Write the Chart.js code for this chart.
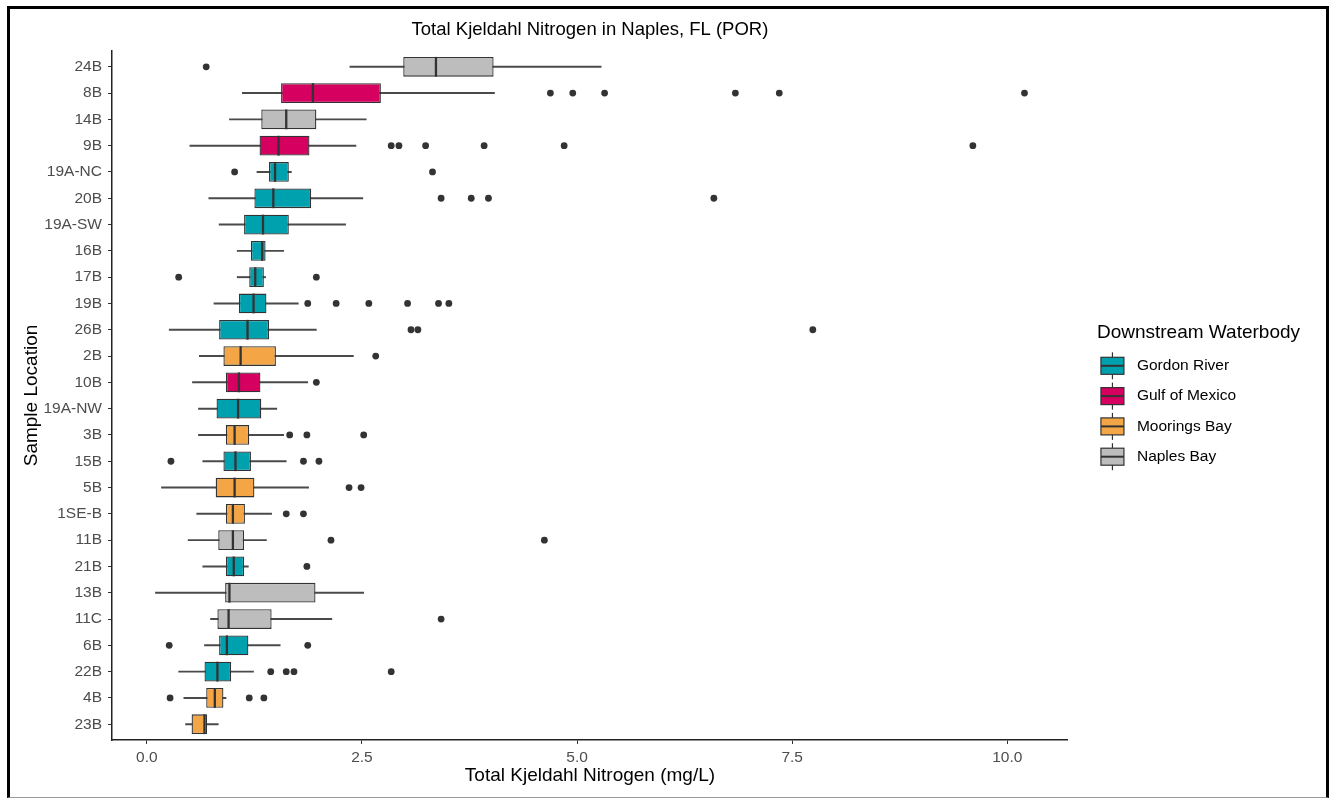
<!DOCTYPE html>
<html>
<head>
<meta charset="utf-8">
<title>Total Kjeldahl Nitrogen in Naples, FL (POR)</title>
<script src="https://cdn.jsdelivr.net/npm/chart.js@4.4.1/dist/chart.umd.min.js"></script>
<style>
  html, body { margin: 0; padding: 0; background: #fff; }
  #wrap { position: relative; width: 1335px; height: 799px; }
  #frame {
    position: absolute; left: 7px; top: 6px; width: 1322px; height: 792px;
    box-sizing: border-box; border: 3px solid #000; border-bottom: 1px solid #9a9a9a;
    pointer-events: none;
  }
</style>
</head>
<body>
<div id="wrap"><canvas id="chart"></canvas><div id="frame"></div></div>
<script>
// sample locations, top to bottom
const categories = ["24B", "8B", "14B", "9B", "19A-NC", "20B", "19A-SW", "16B", "17B", "19B", "26B", "2B", "10B",
  "19A-NW", "3B", "15B", "5B", "1SE-B", "11B", "21B", "13B", "11C", "6B", "22B", "4B", "23B"];
const waterbody = ["Naples Bay", "Gulf of Mexico", "Naples Bay", "Gulf of Mexico", "Gordon River", "Gordon River",
  "Gordon River", "Gordon River", "Gordon River", "Gordon River", "Gordon River", "Moorings Bay", "Gulf of Mexico",
  "Gordon River", "Moorings Bay", "Gordon River", "Moorings Bay", "Moorings Bay", "Naples Bay", "Gordon River",
  "Naples Bay", "Naples Bay", "Gordon River", "Gordon River", "Moorings Bay", "Moorings Bay"];

// box plot statistics (mg/L)
const whiskerLow = [2.36, 1.11, 0.96, 0.50, 1.28, 0.72, 0.84, 1.05, 1.05, 0.78, 0.26, 0.61, 0.53, 0.60, 0.60, 0.65, 0.17, 0.58, 0.48, 0.65, 0.10, 0.74, 0.67, 0.37, 0.43, 0.45];
const q1 = [2.98, 1.56, 1.33, 1.31, 1.42, 1.25, 1.13, 1.21, 1.19, 1.07, 0.84, 0.89, 0.92, 0.81, 0.92, 0.89, 0.80, 0.92, 0.83, 0.92, 0.91, 0.82, 0.84, 0.67, 0.69, 0.52];
const median = [3.36, 1.93, 1.62, 1.53, 1.49, 1.47, 1.35, 1.34, 1.26, 1.24, 1.17, 1.09, 1.07, 1.06, 1.02, 1.03, 1.02, 1.00, 1.00, 1.01, 0.96, 0.95, 0.93, 0.82, 0.79, 0.67];
const q3 = [4.03, 2.72, 1.97, 1.89, 1.65, 1.91, 1.65, 1.38, 1.36, 1.39, 1.42, 1.50, 1.32, 1.33, 1.19, 1.21, 1.25, 1.14, 1.13, 1.13, 1.96, 1.45, 1.18, 0.98, 0.89, 0.70];
const whiskerHigh = [5.28, 4.04, 2.55, 2.43, 1.68, 2.51, 2.31, 1.59, 1.38, 1.76, 1.97, 2.40, 1.87, 1.51, 1.59, 1.62, 1.88, 1.45, 1.39, 1.18, 2.52, 2.15, 1.55, 1.24, 0.92, 0.83];
const outliers = [
  [0.69],
  [4.69, 4.95, 5.32, 6.84, 7.35, 10.20],
  [],
  [2.84, 2.93, 3.24, 3.92, 4.85, 9.60],
  [1.02, 3.32],
  [3.42, 3.77, 3.97, 6.59],
  [],
  [],
  [0.37, 1.97],
  [1.87, 2.20, 2.58, 3.03, 3.39, 3.51],
  [3.07, 3.15, 7.74],
  [2.66],
  [1.97],
  [],
  [1.66, 1.86, 2.52],
  [0.28, 1.82, 2.00],
  [2.35, 2.49],
  [1.62, 1.82],
  [2.14, 4.62],
  [1.86],
  [],
  [3.42],
  [0.26, 1.87],
  [1.44, 1.62, 1.71, 2.84],
  [0.27, 1.19, 1.36],
  []
];

const groups = ["Gordon River", "Gulf of Mexico", "Moorings Bay", "Naples Bay"];
const groupColors = ["#00A1AF", "#D5005F", "#F4A647", "#BDBDBD"];
const legendTitle = "Downstream Waterbody";

const xTickValues = [0, 2.5, 5, 7.5, 10];
const xTickLabels = ["0.0", "2.5", "5.0", "7.5", "10.0"];

const FONT = "'Liberation Sans', Arial, Helvetica, sans-serif";
const boxColors = waterbody.map(w => groupColors[groups.indexOf(w)]);

// boxplot keys in the legend (box, median and whiskers) and the legend title,
// which the legend box itself would clip
const legendKeys = {
  id: "legendKeys",
  afterDraw(chart) {
    const lg = chart.legend;
    if (!lg || !lg.legendHitBoxes) return;
    const ctx = chart.ctx;
    ctx.save();
    ctx.fillStyle = "#000";
    ctx.font = "19px " + FONT;
    ctx.textAlign = "left";
    ctx.textBaseline = "middle";
    ctx.fillText(legendTitle, lg.left, lg.top + 313.2 + 9.5);
    lg.legendHitBoxes.forEach((hb, i) => {
      const cx = hb.left + 11.5;
      const cy = hb.top + hb.height / 2;
      ctx.strokeStyle = "#333";
      ctx.lineWidth = 1.2;
      ctx.beginPath();
      ctx.moveTo(cx, cy - 13.5);
      ctx.lineTo(cx, cy + 13.5);
      ctx.stroke();
      ctx.fillStyle = groupColors[i];
      ctx.fillRect(cx - 11.5, cy - 8.5, 23, 17);
      ctx.strokeRect(cx - 11.5, cy - 8.5, 23, 17);
      ctx.lineWidth = 2;
      ctx.beginPath();
      ctx.moveTo(cx - 11.5, cy);
      ctx.lineTo(cx + 11.5, cy);
      ctx.stroke();
    });
    ctx.restore();
  }
};

new Chart(document.getElementById("chart"), {
  type: "bar",
  plugins: [legendKeys],
  data: {
    datasets: [
      {
        // whiskers
        type: "bar",
        indexAxis: "y",
        xAxisID: "x",
        yAxisID: "y",
        order: 4,
        grouped: false,
        barThickness: 1.3,
        backgroundColor: "#4a4a4a",
        borderWidth: 0,
        data: whiskerLow.map((v, i) => ({ y: i, x: [v, whiskerHigh[i]] }))
      },
      {
        // boxes
        type: "bar",
        indexAxis: "y",
        xAxisID: "x",
        yAxisID: "y",
        order: 3,
        grouped: false,
        barPercentage: 0.75,
        categoryPercentage: 1,
        backgroundColor: boxColors,
        borderColor: "#333",
        borderWidth: 1.3,
        borderSkipped: false,
        data: q1.map((v, i) => ({ y: i, x: [v, q3[i]] }))
      },
      {
        // medians
        type: "scatter",
        xAxisID: "x",
        yAxisID: "y",
        order: 2,
        pointStyle: "line",
        rotation: 90,
        pointRadius: 9.9,
        borderColor: "#333",
        pointBorderWidth: 2.3,
        data: median.map((v, i) => ({ x: v, y: i }))
      },
      {
        // outliers
        type: "scatter",
        xAxisID: "x",
        yAxisID: "y",
        order: 1,
        pointRadius: 3.4,
        pointBorderWidth: 0,
        backgroundColor: "#333",
        data: outliers.flatMap((arr, i) => arr.map(v => ({ x: v, y: i })))
      }
    ]
  },
  options: {
    responsive: true,
    maintainAspectRatio: false,
    animation: false,
    events: [],
    layout: { padding: { left: 12, top: 10, right: 89, bottom: 4 } },
    scales: {
      x: {
        type: "linear",
        position: "bottom",
        offset: false,
        beginAtZero: false,
        min: -0.405,
        max: 10.705,
        afterBuildTicks: (axis) => { axis.ticks = xTickValues.map(v => ({ value: v })); },
        afterFit: (scale) => { scale.height = 55; },
        ticks: {
          callback: (v, i) => xTickLabels[i],
          autoSkip: false,
          color: "#4D4D4D",
          font: { family: FONT, size: 15.5 },
          padding: 4,
          maxRotation: 0
        },
        grid: { display: true, offset: false, drawOnChartArea: false, drawTicks: true, tickLength: 4, color: "#333" },
        border: { display: true, color: "#222", width: 1.5 },
        title: {
          display: true,
          text: "Total Kjeldahl Nitrogen (mg/L)",
          color: "#000",
          font: { family: FONT, size: 19 },
          padding: { top: 0, bottom: 7.6 }
        }
      },
      y: {
        type: "linear",
        position: "left",
        offset: false,
        beginAtZero: false,
        reverse: true,
        min: -0.6,
        max: 25.6,
        afterBuildTicks: (axis) => { axis.ticks = categories.map((c, i) => ({ value: i })); },
        afterFit: (scale) => { scale.width = 100; },
        ticks: {
          callback: (v, i) => categories[i],
          autoSkip: false,
          color: "#4D4D4D",
          font: { family: FONT, size: 15.5 },
          padding: 6
        },
        grid: { display: true, offset: false, drawOnChartArea: false, drawTicks: true, tickLength: 4, color: "#333" },
        border: { display: true, color: "#222", width: 1.5 },
        title: {
          display: true,
          text: "Sample Location",
          color: "#000",
          font: { family: FONT, size: 19 },
          padding: { top: 8, bottom: 0 }
        }
      },
      // empty spacer between the panel and the legend
      y2: {
        type: "linear",
        position: "right",
        display: true,
        afterFit: (scale) => { scale.width = 29; },
        ticks: { display: false },
        grid: { display: false },
        border: { display: false }
      }
    },
    plugins: {
      tooltip: { enabled: false },
      title: {
        display: true,
        fullSize: false,
        text: "Total Kjeldahl Nitrogen in Naples, FL (POR)",
        color: "#000",
        font: { family: FONT, size: 18.5, weight: "normal" },
        padding: { top: 9, bottom: 9.8 }
      },
      legend: {
        display: true,
        position: "right",
        align: "start",
        title: {
          // keeps the space; the visible title is drawn by legendKeys
          display: true,
          text: legendTitle,
          position: "start",
          color: "rgba(0,0,0,0)",
          font: { family: FONT, size: 19 },
          padding: { top: 313.2, bottom: 2.65 }
        },
        labels: {
          color: "#000",
          font: { family: FONT, size: 15.5 },
          boxWidth: 28.25,
          boxHeight: 26.3,
          padding: 4,
          generateLabels: () => groups.map((g, i) => ({
            text: g,
            fontColor: "#000",
            fillStyle: "rgba(0,0,0,0)",
            strokeStyle: "rgba(0,0,0,0)",
            lineWidth: 0,
            hidden: false,
            index: i
          }))
        }
      }
    }
  }
});
</script>
</body>
</html>
